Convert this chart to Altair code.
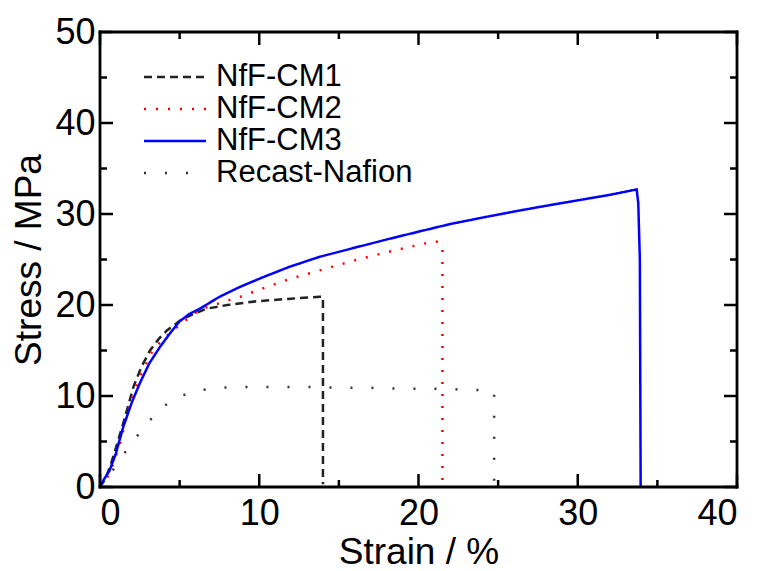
import altair as alt
import pandas as pd

W, H = 637, 455
FONT = "Liberation Sans"

series_names = ["NfF-CM1", "NfF-CM2", "NfF-CM3", "Recast-Nafion"]
series_colors = ["#222222", "#ff0000", "#0000ff", "#333333"]
series_dash = [[8, 5], [2, 10], [1, 0], [2, 19]]

cm1_x = [0, 0.3, 0.63, 1.0, 1.46, 2.1, 2.6, 3.14, 3.7, 4.2, 5.2, 6.0, 6.7, 8.0, 9.8, 12.0, 13.8, 14.0, 14.0]
cm1_y = [0, 0.8, 2.2, 4.3, 7.0, 11.0, 13.2, 15.0, 16.3, 17.2, 18.5, 19.1, 19.6, 20.0, 20.4, 20.7, 20.9, 20.9, 0.3]

cm2_x = [0, 0.4, 0.8, 1.26, 1.88, 2.5, 3.3, 4.0, 4.6, 5.65, 6.28, 7.5, 8.8, 10.5, 12.0, 13.8, 16, 18, 20, 21.0, 21.3, 21.5, 21.5]
cm2_y = [0, 0.8, 2.4, 4.8, 9.2, 12.1, 15.0, 16.3, 17.2, 18.7, 19.5, 20.2, 20.9, 22.0, 22.9, 23.8, 24.9, 25.8, 26.6, 27.0, 26.9, 26.3, 0.3]

cm3_x = [0, 0.2, 0.6, 1.0, 1.46, 2.0, 2.5, 3.1, 3.77, 4.4, 5.0, 5.6, 6.28, 7.5, 8.8, 10.3, 11.9, 13.8, 16, 18, 20.1, 22, 24, 26.4, 28, 30, 32, 33.7, 33.8, 33.9, 33.95]
cm3_y = [0, 0.7, 1.8, 3.7, 6.6, 9.3, 11.4, 13.6, 15.4, 16.9, 18.2, 19.0, 19.6, 20.9, 22.0, 23.1, 24.2, 25.3, 26.3, 27.2, 28.1, 28.9, 29.6, 30.4, 30.9, 31.5, 32.1, 32.7, 31.2, 25.0, 0]

rec_x = [0, 0.5, 0.94, 1.88, 2.83, 3.77, 4.9, 6.1, 7.4, 9, 11, 13, 15, 17, 19, 21, 23, 24.5, 24.75, 24.75]
rec_y = [0, 1.0, 2.2, 4.6, 6.7, 8.6, 9.9, 10.6, 10.9, 11.0, 11.0, 11.0, 10.9, 10.9, 10.8, 10.8, 10.7, 10.6, 10.5, 0]

x_major = [0, 10, 20, 30, 40]
x_minor = [5, 15, 25, 35]
y_major = [0, 10, 20, 30, 40, 50]
y_minor = [5, 15, 25, 35, 45]

rows = []
for name, xs, ys in zip(series_names, [cm1_x, cm2_x, cm3_x, rec_x], [cm1_y, cm2_y, cm3_y, rec_y]):
    for i, (a, b) in enumerate(zip(xs, ys)):
        rows.append({"series": name, "strain": a, "stress": b, "i": i})
df = pd.DataFrame(rows)

xscale = alt.Scale(domain=[0, 40], nice=False, zero=False)
yscale = alt.Scale(domain=[0, 50], nice=False, zero=False)

leg = alt.Legend(
    title=None, orient="none", legendX=58, legendY=28, padding=0,
    symbolType="M-2,0L2,0", symbolSize=961, symbolStrokeWidth=2.5,
    labelFontSize=31, labelFont=FONT, labelColor="black", labelOffset=24,
    rowPadding=0, labelLimit=400,
)

lines = alt.Chart(df).mark_line(strokeWidth=2.5, clip=True).encode(
    x=alt.X("strain:Q", scale=xscale,
            axis=alt.Axis(values=x_major, title="Strain / %", ticks=False, domain=False, grid=False,
                          labelFontSize=36, labelFont=FONT, labelColor="black", labelPadding=9,
                          titleFontSize=37, titleFont=FONT, titleFontWeight="normal", titlePadding=3,
                          titleColor="black")),
    y=alt.Y("stress:Q", scale=yscale,
            axis=alt.Axis(values=y_major, title="Stress / MPa", ticks=False, domain=False, grid=False,
                          labelFontSize=36, labelFont=FONT, labelColor="black", labelPadding=5,
                          titleFontSize=37, titleFont=FONT, titleFontWeight="normal", titlePadding=6,
                          titleColor="black")),
    color=alt.Color("series:N", scale=alt.Scale(domain=series_names, range=series_colors), legend=leg),
    strokeDash=alt.StrokeDash("series:N", scale=alt.Scale(domain=series_names, range=series_dash), legend=leg),
    order="i:Q",
)

def xticks(vals, length):
    d = pd.DataFrame({"v": vals})
    bottom = alt.Chart(d).mark_rule(color="black", strokeWidth=2.5).encode(
        x=alt.X("v:Q", scale=xscale), y=alt.value(H), y2=alt.value(H - length))
    top = alt.Chart(d).mark_rule(color="black", strokeWidth=2.5).encode(
        x=alt.X("v:Q", scale=xscale), y=alt.value(0), y2=alt.value(length))
    return [bottom, top]

def yticks(vals, length):
    d = pd.DataFrame({"v": vals})
    left = alt.Chart(d).mark_rule(color="black", strokeWidth=2.5).encode(
        y=alt.Y("v:Q", scale=yscale), x=alt.value(0), x2=alt.value(length))
    right = alt.Chart(d).mark_rule(color="black", strokeWidth=2.5).encode(
        y=alt.Y("v:Q", scale=yscale), x=alt.value(W), x2=alt.value(W - length))
    return [left, right]

frame_style = dict(color="black", strokeWidth=2.8, strokeCap="square")
frame = [
    alt.Chart().mark_rule(**frame_style).encode(x=alt.value(0), x2=alt.value(W), y=alt.value(0)),
    alt.Chart().mark_rule(**frame_style).encode(x=alt.value(0), x2=alt.value(W), y=alt.value(H)),
    alt.Chart().mark_rule(**frame_style).encode(y=alt.value(0), y2=alt.value(H), x=alt.value(0)),
    alt.Chart().mark_rule(**frame_style).encode(y=alt.value(0), y2=alt.value(H), x=alt.value(W)),
]

layers = [lines] + xticks(x_major, 13) + xticks(x_minor, 7) + yticks(y_major, 13) + yticks(y_minor, 7) + frame

chart = alt.layer(*layers).properties(
    width=W, height=H,
    autosize=alt.AutoSizeParams(type="none"),
    padding={"left": 92, "top": 24, "right": 10, "bottom": 84},
).configure_view(stroke=None).configure(background="white")

chart.save("out.html", embed_options={"renderer": "svg", "actions": False})
